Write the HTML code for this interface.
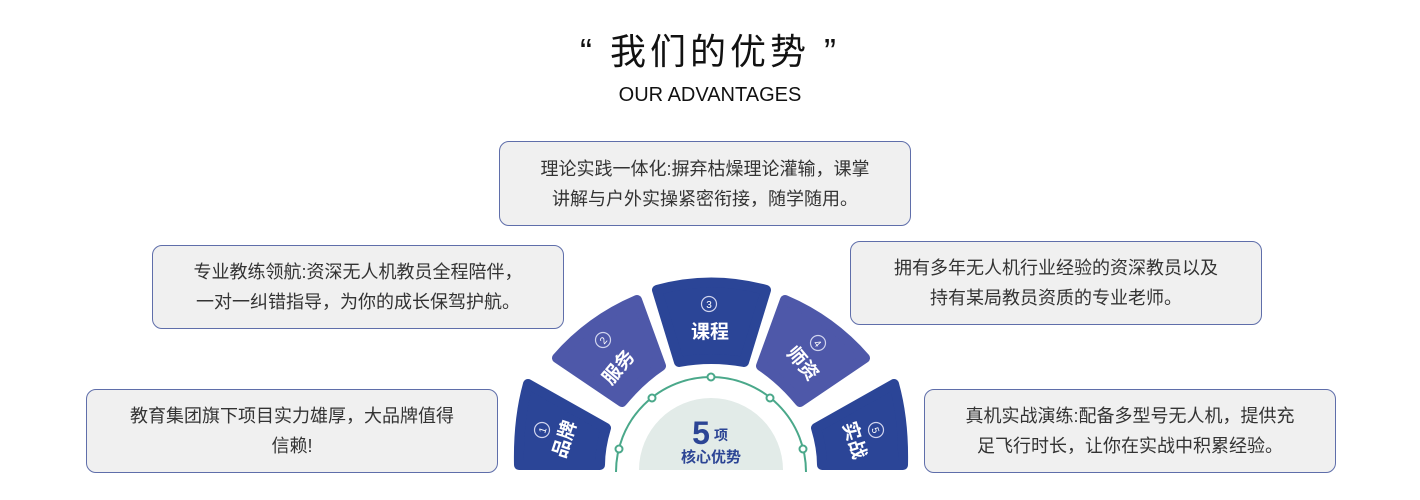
<!DOCTYPE html>
<html><head><meta charset="utf-8">
<style>
html,body{margin:0;padding:0;background:#fff;}
body{width:1420px;height:500px;position:relative;overflow:hidden;font-family:"Liberation Sans","Noto Sans CJK SC",sans-serif;}
.t1{position:absolute;left:0;width:1420px;top:28px;text-align:center;font-size:36px;color:#111;letter-spacing:4px;line-height:48px;}
.t2{position:absolute;left:0;width:1420px;top:82px;text-align:center;font-size:20px;color:#111;line-height:26px;}
.box{position:absolute;box-sizing:border-box;background:#f0f0f0;border:1.5px solid #5f6eaa;border-radius:10px;display:flex;align-items:center;justify-content:center;text-align:center;font-size:18px;line-height:30px;color:#333;}
svg{position:absolute;left:0;top:0;}
</style></head><body>
<div class="t1">“ 我们的优势 ”</div>
<div class="t2">OUR ADVANTAGES</div>

<div class="box" style="left:499px;top:141px;width:412px;height:85px;">理论实践一体化:摒弃枯燥理论灌输，课掌<br>讲解与户外实操紧密衔接，随学随用。</div>
<div class="box" style="left:152px;top:245px;width:412px;height:84px;">专业教练领航:资深无人机教员全程陪伴，<br>一对一纠错指导，为你的成长保驾护航。</div>
<div class="box" style="left:850px;top:241px;width:412px;height:84px;">拥有多年无人机行业经验的资深教员以及<br>持有某局教员资质的专业老师。</div>
<div class="box" style="left:86px;top:389px;width:412px;height:84px;">教育集团旗下项目实力雄厚，大品牌值得<br>信赖!</div>
<div class="box" style="left:924px;top:389px;width:412px;height:84px;">真机实战演练:配备多型号无人机，提供充<br>足飞行时长，让你在实战中积累经验。</div>

<svg width="1420" height="500" viewBox="0 0 1420 500">
<g stroke-linejoin="round" stroke-width="10">
<path d="M519,465 Q518,420 528,384 L606,428 Q600,448 600,465 Z" fill="#2b4597" stroke="#2b4597"/>
<path d="M557,358 Q590,320 637,300 L661,366 Q640,380 622,402 Z" fill="#4e58a9" stroke="#4e58a9"/>
<path d="M657,290 Q711,275 766,290 L744,362 Q711,356 679,362 Z" fill="#2b4597" stroke="#2b4597"/>
<path d="M865,358 Q832,320 785,300 L761,366 Q782,380 800,402 Z" fill="#4e58a9" stroke="#4e58a9"/>
<path d="M903,465 Q904,420 894,384 L816,428 Q822,448 822,465 Z" fill="#2b4597" stroke="#2b4597"/>
</g>
<path d="M639,470 A72,72 0 0 1 783,470 Z" fill="#e2ebe8"/>
<path d="M616,472 A95,95 0 0 1 806,472" fill="none" stroke="#4aa88a" stroke-width="2"/>
<g fill="#fff" stroke="#4aa88a" stroke-width="2">
<circle cx="619" cy="449" r="3.5"/><circle cx="652" cy="398" r="3.5"/><circle cx="711" cy="377" r="3.5"/><circle cx="770" cy="398" r="3.5"/><circle cx="803" cy="449" r="3.5"/>
</g>
<g fill="#fff" font-family="Liberation Sans,Noto Sans CJK SC,sans-serif" font-weight="bold" text-anchor="middle">
<g transform="translate(564,439) rotate(-72)"><text y="7" font-size="19">品牌</text></g>
<g transform="translate(618,367) rotate(-50)"><text y="7" font-size="19">服务</text></g>
<g transform="translate(710,331)"><text y="7" font-size="19">课程</text></g>
<g transform="translate(803,363) rotate(50)"><text y="7" font-size="19">师资</text></g>
<g transform="translate(855,440) rotate(72)"><text y="7" font-size="19">实战</text></g>
</g>
<g fill="none" stroke="#d0d4ee" stroke-width="1.2">
<circle cx="542" cy="430" r="7.5"/><circle cx="603" cy="340" r="7.5"/><circle cx="709" cy="304" r="7.5"/><circle cx="818" cy="343" r="7.5"/><circle cx="876" cy="430" r="7.5"/>
</g>
<g fill="#fff" font-family="Liberation Sans,sans-serif" font-size="10" text-anchor="middle">
<text x="542" y="434" transform="rotate(-72 542 430)">1</text>
<text x="603" y="344" transform="rotate(-50 603 340)">2</text>
<text x="709" y="308">3</text>
<text x="818" y="347" transform="rotate(50 818 343)">4</text>
<text x="876" y="434" transform="rotate(72 876 430)">5</text>
</g>
<g fill="#2c4595" font-family="Liberation Sans,Noto Sans CJK SC,sans-serif" font-weight="bold">
<text x="701" y="444" font-size="32" text-anchor="middle">5</text>
<text x="714" y="440" font-size="14">项</text>
<text x="711" y="462" font-size="15" text-anchor="middle">核心优势</text>
</g>
</svg>
</body></html>
